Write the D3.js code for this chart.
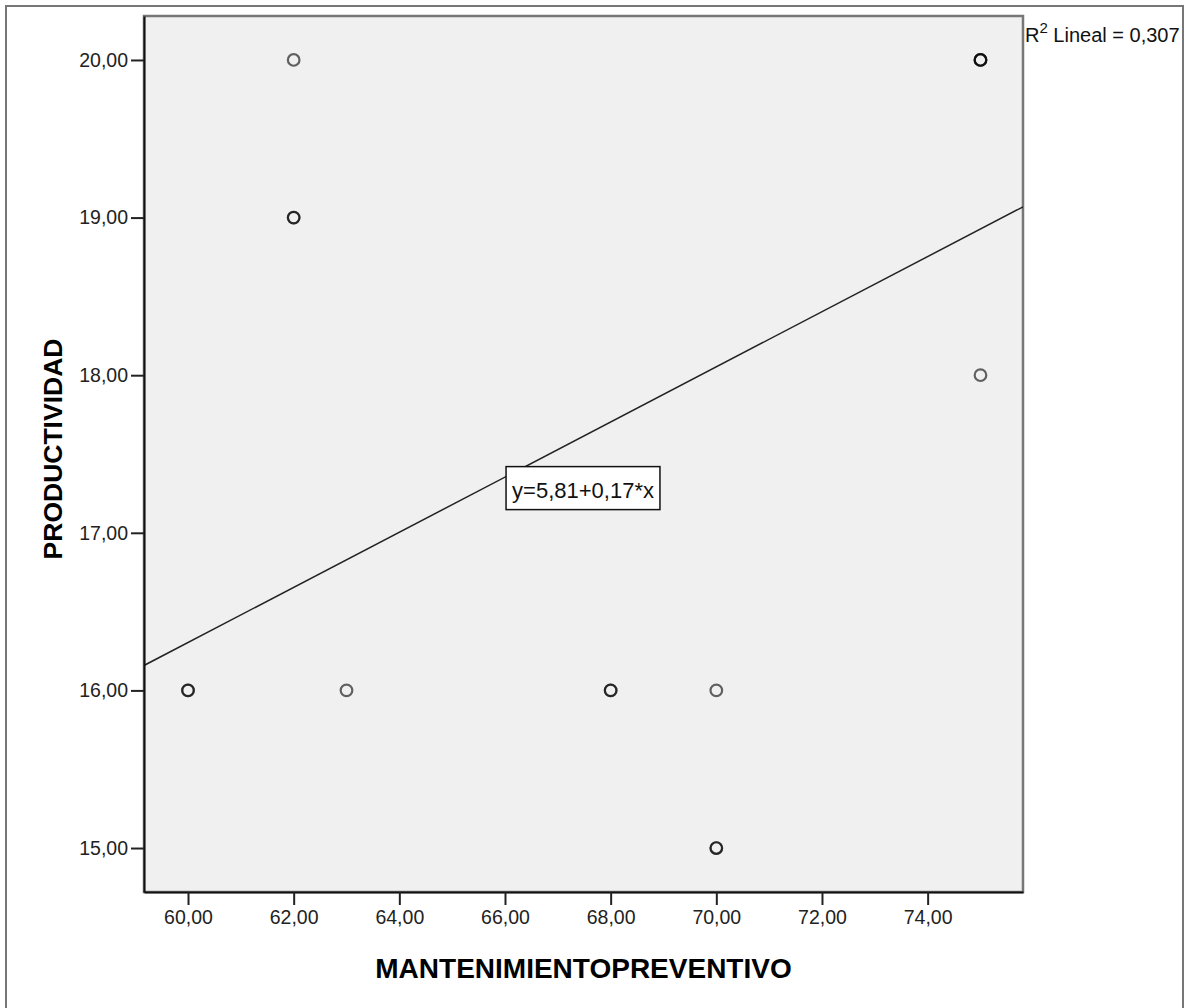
<!DOCTYPE html>
<html>
<head>
<meta charset="utf-8">
<script src="https://cdn.jsdelivr.net/npm/d3@7"></script>
<style>
  body { margin: 0; background: #fff; }
  svg { display: block; font-family: Arial, "Liberation Sans", sans-serif; }
  .tick text { fill: #222; font-size: 19.5px; }
  .title { font-weight: bold; fill: #000; }
</style>
</head>
<body>
<svg id="chart" width="1187" height="1008"></svg>
<script>
// observations (MANTENIMIENTOPREVENTIVO, PRODUCTIVIDAD); repeats overlap
const mantenimiento = [60, 60, 62, 62, 62, 63, 68, 68, 70, 70, 70, 75, 75, 75, 75];
const productividad = [16, 16, 20, 19, 19, 16, 16, 16, 16, 15, 15, 20, 20, 20, 18];

const xTicks = [60, 62, 64, 66, 68, 70, 72, 74];
const yTicks = [15, 16, 17, 18, 19, 20];

const intercept = 5.81;
const slope = 0.1749;
const eqLabel = "y=5,81+0,17*x";
const eqAnchor = [66.02, 17.42];
const r2Value = "0,307";

const xDomain = [59.167, 75.805];
const yDomain = [14.721, 20.279];

const plot = {left: 144, top: 16, right: 1023, bottom: 892};

const svg = d3.select("#chart");

const x = d3.scaleLinear().domain(xDomain).range([plot.left, plot.right]);
const y = d3.scaleLinear().domain(yDomain).range([plot.bottom, plot.top]);

const locale = d3.formatLocale({decimal: ",", thousands: ".", grouping: [3], currency: ["", ""]});
const fmt = locale.format(".2f");

// outer frame
svg.append('rect')
    .attr('x', 6).attr('y', 6)
    .attr('width', 1177).attr('height', 1020)
    .attr('fill', "none")
    .attr('stroke', "#777")
    .attr('stroke-width', 2);

// plot background
svg.append('rect')
    .attr('x', plot.left).attr('y', plot.top)
    .attr('width', plot.right - plot.left)
    .attr('height', plot.bottom - plot.top)
    .attr('fill', "#f0f0f0")
    .attr('stroke', "#777")
    .attr('stroke-width', 2.5);

svg.append('defs').append('clipPath').attr('id', "clip")
    .append('rect')
    .attr('x', plot.left).attr('y', plot.top)
    .attr('width', plot.right - plot.left)
    .attr('height', plot.bottom - plot.top);

// fit line
const lineData = xDomain.map((v) => [v, intercept + slope * v]);
svg.append('path')
    .attr('clip-path', "url(#clip)")
    .attr('d', d3.line().x((d) => x(d[0])).y((d) => y(d[1]))(lineData))
    .attr('fill', "none")
    .attr('stroke', "#222")
    .attr('stroke-width', 1.5);

// points
const points = mantenimiento.map((v, i) => ({x: v, y: productividad[i]}));
svg.append('g')
    .selectAll('circle')
    .data(points)
    .join('circle')
    .attr('cx', (d) => x(d.x))
    .attr('cy', (d) => y(d.y))
    .attr('r', 5.8)
    .attr('fill', "none")
    .attr('stroke', "#000")
    .attr('stroke-opacity', 0.6)
    .attr('stroke-width', 2.2);

// axes
const xAxis = svg.append('g')
    .attr('transform', `translate(0,${plot.bottom})`)
    .call(d3.axisBottom(x).tickValues(xTicks).tickFormat(fmt)
        .tickSize(13).tickSizeOuter(0).tickPadding(5));
const yAxis = svg.append('g')
    .attr('transform', `translate(${plot.left},0)`)
    .call(d3.axisLeft(y).tickValues(yTicks).tickFormat(fmt)
        .tickSize(13).tickSizeOuter(0).tickPadding(3));
[xAxis, yAxis].forEach((a) => {
    a.select('.domain').attr('stroke', "#111").attr('stroke-width', 2);
    a.selectAll('.tick line').attr('stroke', "#222").attr('stroke-width', 2);
    a.attr('font-family', null).attr('font-size', null);
});

// equation label
const eqG = svg.append('g')
    .attr('transform', `translate(${x(eqAnchor[0])},${y(eqAnchor[1])})`);
const eqText = eqG.append('text')
    .attr('x', 6).attr('y', 31)
    .attr('font-size', 22)
    .attr('fill', "#111")
    .text(eqLabel);
const bb = eqText.node().getBBox();
eqG.insert('rect', 'text')
    .attr('x', 0).attr('y', 0)
    .attr('width', bb.width + 12)
    .attr('height', 43)
    .attr('fill', "#fff")
    .attr('stroke', "#111")
    .attr('stroke-width', 1.5);

// R2 label
const r2 = svg.append('text')
    .attr('x', plot.right + 2)
    .attr('y', 42)
    .attr('font-size', 20)
    .attr('fill', "#111");
r2.append('tspan').text("R");
r2.append('tspan').attr('font-size', 15).attr('dy', -9).text("2");
r2.append('tspan').attr('dy', 9).text(" Lineal = " + r2Value);

// axis titles
svg.append('text')
    .attr('class', "title")
    .attr('x', (plot.left + plot.right) / 2)
    .attr('y', 978)
    .attr('text-anchor', "middle")
    .attr('font-size', 28)
    .text("MANTENIMIENTOPREVENTIVO");

svg.append('text')
    .attr('class', "title")
    .attr('transform', `translate(62,449) rotate(-90)`)
    .attr('text-anchor', "middle")
    .attr('font-size', 26.5)
    .text("PRODUCTIVIDAD");
</script>
</body>
</html>
